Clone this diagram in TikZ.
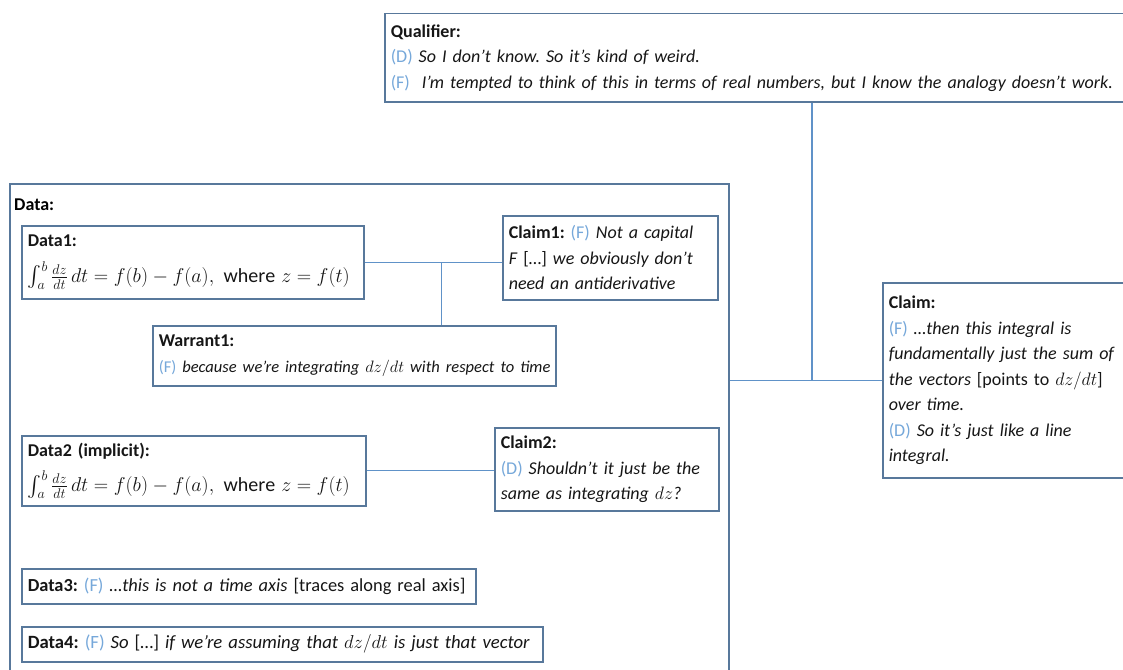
\RequirePackage{fix-cm}
\documentclass[tikz,border=0pt]{standalone}
\usepackage{amsmath}
\usepackage{fontspec}
\setmainfont{Carlito}
\usetikzlibrary{calc}
\frenchspacing

\definecolor{frame}{RGB}{88,120,155}
\definecolor{link}{RGB}{96,146,200}
\definecolor{who}{RGB}{118,168,218}
\definecolor{ink}{RGB}{22,22,22}

% speaker tag such as (D) or (F)
\newcommand{\spk}[1]{\textcolor{who}{\textup{(#1)}}}
% one unbreakable text line inside a box
\newcommand{\lin}[1]{\mbox{#1}}
% integral statement shared by the two data boxes
\newcommand{\ftc}{{\fontsize{20}{25}\selectfont$\int_a^b \frac{dz}{dt}\,dt = f(b) - f(a),\ \mathrm{where}\ z = f(t)$}}

\begin{document}
\begin{tikzpicture}[x=1pt,y=-1pt,
  font=\fontsize{18}{25.5}\selectfont,
  card/.style={draw=frame, line width=1.5pt, fill=white, anchor=north west,
    inner xsep=6pt, inner ysep=4pt, align=left, text=ink},
  link/.style={draw=link, line width=1.3pt}]
\useasboundingbox (0,0) rectangle (1123,669);
\clip (0,0) rectangle (1123,669);

% outer data frame
\node[card, minimum width=719pt, minimum height=600pt, inner sep=0pt] (data) at (9,183) {};
\node[anchor=west, inner sep=0pt, font=\fontsize{18}{25}\selectfont\bfseries] (dlab) at (14,205) {Data:};

% qualifier
\node[card, text width=760pt, minimum height=88pt] (qual) at (384,13)
 {\textbf{Qualifier:}\\
  \lin{\spk{D} \textit{So I don’t know. So it’s kind of weird.}}\\
  \lin{\spk{F}\ \ \textit{I’m tempted to think of this in terms of real numbers, but I know the analogy doesn’t work.}}};

% main claim
\node[card, text width=270pt, minimum height=195pt] (claim) at (882,282)
 {\textbf{Claim:}\\
  \lin{\spk{F} \textit{…then this integral is}}\\
  \lin{\textit{fundamentally just the sum of}}\\
  \lin{\textit{the vectors} [points to $dz/dt$]}\\
  \lin{\textit{over time.}}\\
  \lin{\spk{D} \textit{So it’s just like a line}}\\
  \lin{\textit{integral.}}};

% first argument
\node[card, text width=330pt, minimum height=73pt] (d1) at (21,225)
 {\textbf{Data1:}\\[10pt] \lin{\ftc}};
\node[card, text width=203pt, minimum height=84pt] (c1) at (502,215)
 {\lin{\textbf{Claim1:} \spk{F} \textit{Not a capital}}\\
  \lin{\textit{F} […] \textit{we obviously don’t}}\\
  \lin{\textit{need an antiderivative}}};
\node[card, text width=391pt, minimum height=60pt] (w1) at (152,325)
 {\textbf{Warrant1:}\\
  \lin{\fontsize{16.5}{25.5}\selectfont\spk{F} \textit{because we’re integrating $dz/dt$ with respect to time}}};

% second argument
\node[card, text width=332pt, minimum height=70pt] (d2) at (21,435)
 {\textbf{Data2 (implicit):}\\[10pt] \lin{\ftc}};
\node[card, text width=212pt, minimum height=83pt] (c2) at (494,427)
 {\textbf{Claim2:}\\
  \lin{\spk{D} \textit{Shouldn’t it just be the}}\\
  \lin{\textit{same as integrating $dz$?}}};

% loose data
\node[card, text width=442pt, minimum height=35pt] (d3) at (21,568)
 {\lin{\fontsize{18.4}{25.5}\selectfont\textbf{Data3:} \spk{F} \textit{…this is not a time axis} [traces along real axis]}};
\node[card, text width=509pt, minimum height=35pt] (d4) at (21,626)
 {\lin{\fontsize{18.7}{25.5}\selectfont\textbf{Data4:} \spk{F} \textit{So} […] \textit{if we’re assuming that $dz/dt$ is just that vector}}};

% connectors
\draw[link] (d1.east) -- (d1.east -| c1.west);
\coordinate (j1) at ($(d1.east)+(77,0)$);
\draw[link] (j1) -- (j1 |- w1.north);
\draw[link] (d2.east) -- (d2.east -| c2.west);
\draw[link] (claim.west -| data.east) -- (claim.west);
\coordinate (j2) at (812,0);
\draw[link] (j2 |- qual.south) -- (j2 |- claim.west);
\end{tikzpicture}
\end{document}
